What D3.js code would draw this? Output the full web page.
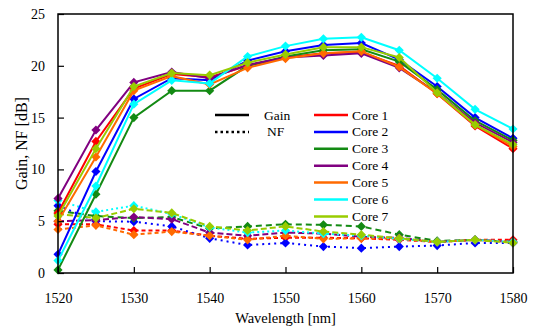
<!DOCTYPE html>
<html>
<head>
<meta charset="utf-8">
<script src="https://cdn.jsdelivr.net/npm/d3@7"></script>
<style>
  body { margin: 0; background: #fff; }
</style>
</head>
<body>
<svg width="538" height="329"></svg>
<script>
// wavelengths
const wavelengths = [1520, 1525, 1530, 1535, 1540, 1545, 1550, 1555, 1560, 1565, 1570, 1575, 1580];

// gain per core [dB]
const gain1 = [5.8, 12.7, 17.8, 19.2, 18.9, 20.0, 20.8, 21.2, 21.3, 20.0, 17.3, 14.2, 12.0];
const gain2 = [1.8, 9.8, 16.8, 18.8, 18.6, 20.5, 21.4, 22.0, 22.2, 20.6, 18.0, 15.0, 13.0];
const gain3 = [0.3, 7.6, 15.0, 17.6, 17.6, 20.0, 20.9, 21.5, 21.6, 20.4, 17.7, 14.7, 12.8];
const gain4 = [7.2, 13.8, 18.4, 19.4, 18.8, 20.1, 20.8, 21.0, 21.2, 19.8, 17.4, 14.5, 12.6];
const gain5 = [5.0, 11.2, 17.6, 19.0, 18.2, 19.8, 20.7, 21.2, 21.4, 19.9, 17.3, 14.3, 12.2];
const gain6 = [1.2, 8.4, 16.3, 18.6, 18.3, 20.9, 21.9, 22.6, 22.75, 21.5, 18.8, 15.8, 13.9];
const gain7 = [5.5, 12.0, 18.0, 19.3, 19.1, 20.3, 21.1, 21.8, 21.8, 20.8, 17.4, 14.3, 12.4];

// noise figure per core [dB]
const nf1 = [4.7, 4.7, 4.1, 4.1, 3.6, 3.3, 3.4, 3.4, 3.35, 3.2, 3.0, 3.2, 3.2];
const nf2 = [6.5, 5.0, 4.95, 4.5, 3.35, 2.7, 2.9, 2.55, 2.4, 2.55, 2.65, 2.9, 2.9];
const nf3 = [6.0, 5.5, 5.3, 5.4, 4.3, 4.5, 4.7, 4.65, 4.5, 3.7, 3.1, 3.2, 3.0];
const nf4 = [5.0, 5.1, 5.4, 5.2, 3.9, 3.6, 3.9, 3.8, 3.5, 3.4, 3.0, 3.2, 3.0];
const nf5 = [4.2, 4.6, 3.7, 4.0, 3.6, 3.2, 3.6, 3.3, 3.35, 3.3, 3.0, 3.2, 3.0];
const nf6 = [7.0, 5.9, 6.5, 5.7, 4.4, 3.9, 4.1, 3.8, 3.6, 3.3, 3.0, 3.2, 3.0];
const nf7 = [5.7, 5.3, 6.2, 5.8, 4.5, 4.1, 4.5, 4.0, 3.7, 3.35, 3.0, 3.2, 2.9];

const coreNames = ["Core 1", "Core 2", "Core 3", "Core 4", "Core 5", "Core 6", "Core 7"];
const coreColors = ["#ff0000", "#0000ff", "#138a13", "#800080", "#ff6a00", "#00ffff", "#99cc00"];
const nfDash = ["4,3", "2,4", "6,4", "6,3", "4,3", "2,3", "6,3"];

const gains = [gain1, gain2, gain3, gain4, gain5, gain6, gain7];
const nfs = [nf1, nf2, nf3, nf4, nf5, nf6, nf7];

const xTicks = [1520, 1530, 1540, 1550, 1560, 1570, 1580];
const yTicks = [0, 5, 10, 15, 20, 25];

const fontFam = "'Liberation Serif', 'Liberation Sans', Arial, sans-serif";

const svg = d3.select("svg");
const plotL = 58, plotR = 513, plotT = 14, plotB = 273;

const x = d3.scaleLinear().domain([1520, 1580]).range([plotL, plotR]);
const y = d3.scaleLinear().domain([0, 25]).range([plotB, plotT]);

const line = d3.line()
    .x((d, i) => x(wavelengths[i]))
    .y(d => y(d));

const diamond = d3.symbol().type(d3.symbolSquare).size(42);

// NF lines (drawn first)
nfs.forEach((s, k) => {
    svg.append("path")
        .datum(s)
        .attr("d", line)
        .attr("fill", "none")
        .attr("stroke", coreColors[k])
        .attr("stroke-width", 2)
        .attr("stroke-dasharray", nfDash[k]);
    svg.append("g")
        .selectAll("path")
        .data(s)
        .join("path")
        .attr("d", diamond)
        .attr("transform", (d, i) => `translate(${x(wavelengths[i])},${y(d)}) rotate(45)`)
        .attr("fill", coreColors[k]);
});

// gain lines
gains.forEach((s, k) => {
    svg.append("path")
        .datum(s)
        .attr("d", line)
        .attr("fill", "none")
        .attr("stroke", coreColors[k])
        .attr("stroke-width", 2);
    svg.append("g")
        .selectAll("path")
        .data(s)
        .join("path")
        .attr("d", diamond)
        .attr("transform", (d, i) => `translate(${x(wavelengths[i])},${y(d)}) rotate(45)`)
        .attr("fill", coreColors[k]);
});

// frame
svg.append("rect")
    .attr("x", plotL).attr("y", plotT)
    .attr("width", plotR - plotL).attr("height", plotB - plotT)
    .attr("fill", "none").attr("stroke", "#000").attr("stroke-width", 1.5);

// axes with inward ticks
const xAxis = svg.append("g")
    .attr("transform", `translate(0,${plotB})`)
    .call(d3.axisBottom(x).tickValues(xTicks).tickSizeInner(-6).tickSizeOuter(0).tickPadding(20).tickFormat(d3.format("d")));
const yAxis = svg.append("g")
    .attr("transform", `translate(${plotL},0)`)
    .call(d3.axisLeft(y).tickValues(yTicks).tickSizeInner(-6).tickSizeOuter(0).tickPadding(13));
[xAxis, yAxis].forEach(a => {
    a.select(".domain").remove();
    a.selectAll("line").attr("stroke", "#000").attr("stroke-width", 1.2);
    a.selectAll("text").attr("font-size", 14).attr("fill", "#000");
});

// axis titles
svg.append("text")
    .attr("x", (plotL + plotR) / 2)
    .attr("y", 323)
    .attr("text-anchor", "middle")
    .attr("font-size", 14.5)
    .text("Wavelength [nm]");
svg.append("text")
    .attr("transform", `translate(23,${(plotT + plotB) / 2}) rotate(-90)`)
    .attr("text-anchor", "middle")
    .attr("dominant-baseline", "middle")
    .attr("font-size", 16)
    .text("Gain, NF [dB]");

// legend: line style
const styleItems = [{ label: "Gain", dash: null }, { label: "NF", dash: "2.5,3" }];
styleItems.forEach((d, i) => {
    const yy = 115 + i * 16.9;
    svg.append("line")
        .attr("x1", 215).attr("x2", 249).attr("y1", yy).attr("y2", yy)
        .attr("stroke", "#000").attr("stroke-width", 2.5)
        .attr("stroke-dasharray", d.dash);
    svg.append("text")
        .attr("x", i === 0 ? 264 : 267).attr("y", yy)
        .attr("dominant-baseline", "central")
        .attr("font-size", 13.5)
        .text(d.label);
});

// legend: cores
coreNames.forEach((name, i) => {
    const yy = 115 + i * 16.9;
    svg.append("line")
        .attr("x1", 314).attr("x2", 348).attr("y1", yy).attr("y2", yy)
        .attr("stroke", coreColors[i]).attr("stroke-width", 2.5);
    svg.append("text")
        .attr("x", 352).attr("y", yy)
        .attr("dominant-baseline", "central")
        .attr("font-size", 13.5)
        .text(name);
});

svg.selectAll("text").style("font-family", fontFam);
</script>
</body>
</html>
